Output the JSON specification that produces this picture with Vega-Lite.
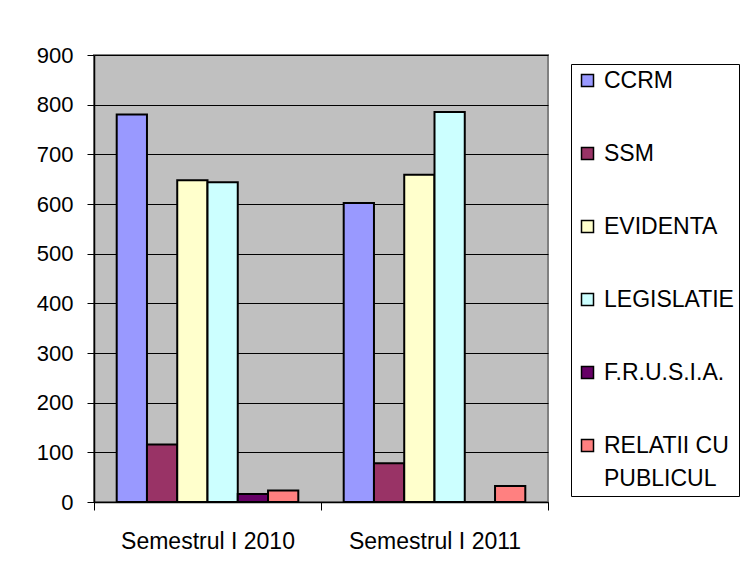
{
  "$schema": "https://vega.github.io/schema/vega-lite/v6.json",
  "width": 454,
  "height": 447,
  "autosize": {"type": "none"},
  "padding": {"left": 94, "top": 55, "right": 205, "bottom": 76},
  "background": "white",
  "config": {
    "view": {"fill": "#C0C0C0", "stroke": "#808080", "strokeWidth": 2},
    "font": "Liberation Sans"
  },
  "data": {
    "values": [
      {"semestru": "Semestrul I 2010", "categorie": "CCRM", "valoare": 780},
      {"semestru": "Semestrul I 2010", "categorie": "SSM", "valoare": 116},
      {"semestru": "Semestrul I 2010", "categorie": "EVIDENTA", "valoare": 648},
      {"semestru": "Semestrul I 2010", "categorie": "LEGISLATIE", "valoare": 644},
      {"semestru": "Semestrul I 2010", "categorie": "F.R.U.S.I.A.", "valoare": 16},
      {"semestru": "Semestrul I 2010", "categorie": "RELATII CU PUBLICUL", "valoare": 23},
      {"semestru": "Semestrul I 2011", "categorie": "CCRM", "valoare": 602},
      {"semestru": "Semestrul I 2011", "categorie": "SSM", "valoare": 78},
      {"semestru": "Semestrul I 2011", "categorie": "EVIDENTA", "valoare": 659},
      {"semestru": "Semestrul I 2011", "categorie": "LEGISLATIE", "valoare": 785},
      {"semestru": "Semestrul I 2011", "categorie": "F.R.U.S.I.A.", "valoare": 0},
      {"semestru": "Semestrul I 2011", "categorie": "RELATII CU PUBLICUL", "valoare": 32}
    ]
  },
  "mark": {"type": "bar", "stroke": "black", "strokeWidth": 2},
  "encoding": {
    "x": {
      "field": "semestru", "type": "nominal", "sort": null,
      "scale": {"paddingInner": 0, "paddingOuter": 0},
      "axis": {
        "title": null, "labelAngle": 0, "labelFontSize": 23, "labelColor": "black",
        "domainColor": "black", "domainWidth": 1.5, "tickColor": "black", "tickSize": 8,
        "tickWidth": 1, "tickBand": "extent", "labelPadding": 20, "grid": false
      }
    },
    "xOffset": {
      "field": "categorie", "type": "nominal",
      "sort": ["CCRM", "SSM", "EVIDENTA", "LEGISLATIE", "F.R.U.S.I.A.", "RELATII CU PUBLICUL"],
      "scale": {"paddingInner": 0, "paddingOuter": 0.75}
    },
    "y": {
      "field": "valoare", "type": "quantitative",
      "scale": {"domain": [0, 900], "nice": false},
      "axis": {
        "title": null, "values": [0, 100, 200, 300, 400, 500, 600, 700, 800, 900],
        "labelFontSize": 22, "labelColor": "black", "grid": true, "gridColor": "black",
        "gridWidth": 1, "gridOpacity": 1, "domainColor": "black", "domainWidth": 1.5,
        "tickColor": "black", "tickSize": 7, "labelPadding": 14
      }
    },
    "color": {
      "field": "categorie", "type": "nominal",
      "sort": ["CCRM", "SSM", "EVIDENTA", "LEGISLATIE", "F.R.U.S.I.A.", "RELATII CU PUBLICUL"],
      "scale": {
        "domain": ["CCRM", "SSM", "EVIDENTA", "LEGISLATIE", "F.R.U.S.I.A.", "RELATII CU PUBLICUL"],
        "range": ["#9999FF", "#993366", "#FFFFCC", "#CCFFFF", "#660066", "#FF8080"]
      },
      "legend": {
        "orient": "none", "legendX": 477, "legendY": 2, "title": null,
        "symbolType": "square", "symbolSize": 144, "symbolStrokeColor": "black",
        "symbolStrokeWidth": 1.5, "symbolOpacity": 1, "labelFontSize": 23, "labelColor": "black",
        "labelOffset": 5, "rowPadding": 49, "padding": 5, "strokeColor": "black",
        "fillColor": "white", "labelLimit": 300,
        "labelExpr": "datum.label == 'RELATII CU PUBLICUL' ? ['RELATII CU', 'PUBLICUL'] : datum.label",
        "encode": {
          "labels": {"update": {"lineHeight": {"value": 33}}},
          "legend": {"update": {"y": {"value": 9}}}
        }
      }
    }
  }
}
